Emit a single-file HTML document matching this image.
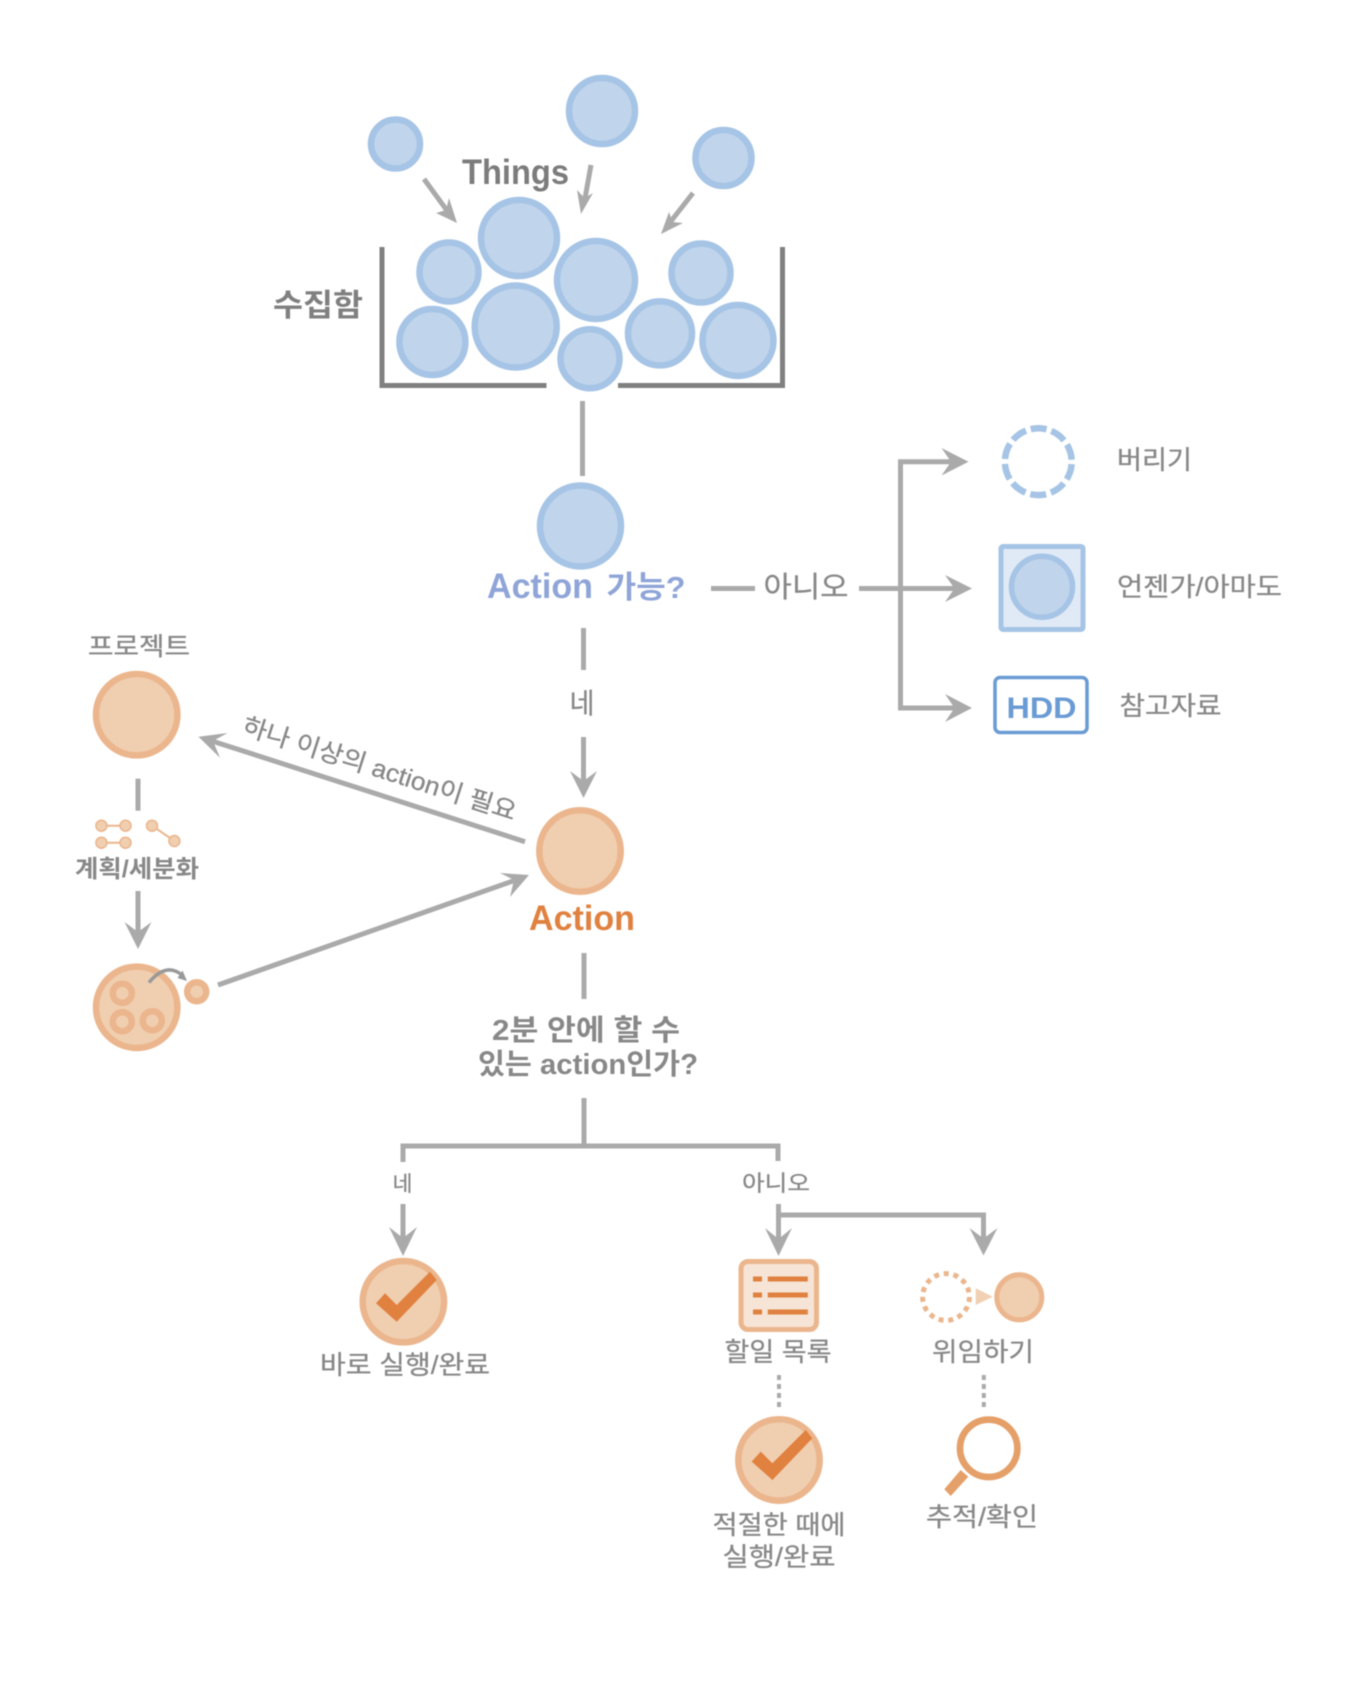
<!DOCTYPE html>
<html><head><meta charset="utf-8"><style>
html,body{margin:0;padding:0;background:#fff}
svg{display:block;filter:blur(.5px)}
text{font-family:"Liberation Sans","Noto Sans CJK KR",sans-serif;text-anchor:middle;fill:#888;stroke:#888;stroke-width:.3}
.b{font-weight:700;stroke-width:0}
.bl{fill:#c0d4ec;stroke:#a6c4e5;stroke-width:6.500}
.or{fill:#f0ceb0;stroke:#ebb68d;stroke-width:6.500}
.ln{stroke:#aaa;stroke-width:5;fill:none}
.ah{fill:#aaa}
.ck{fill:#e0813f}
.tr{fill:#808080}
</style></head><body>
<svg width="1366" height="1702" viewBox="0 0 1366 1702" xmlns="http://www.w3.org/2000/svg">
<rect width="1366" height="1702" fill="#fff"/>
<!-- falling -->
<circle class="bl" cx="395.500" cy="144" r="24.500"/>
<circle class="bl" cx="602" cy="111" r="33"/>
<circle class="bl" cx="723.500" cy="158" r="28"/>
<!-- tray -->
<rect class="tr" x="379.500" y="247" width="5" height="141"/>
<rect class="tr" x="780" y="247" width="5" height="141"/>
<rect class="tr" x="379.500" y="383" width="167" height="5"/>
<rect class="tr" x="618" y="383" width="167" height="5"/>
<!-- pile -->
<circle class="bl" cx="519" cy="238" r="38"/>
<circle class="bl" cx="449" cy="272" r="29.500"/>
<circle class="bl" cx="596" cy="280" r="39"/>
<circle class="bl" cx="701" cy="273" r="29.500"/>
<circle class="bl" cx="515.700" cy="326.500" r="41"/>
<circle class="bl" cx="432.400" cy="342" r="33"/>
<circle class="bl" cx="590" cy="358.700" r="29.500"/>
<circle class="bl" cx="660" cy="333.400" r="32"/>
<circle class="bl" cx="738" cy="340.500" r="35.500"/>
<!-- inbound arrows -->
<path class="ln" d="M424 179L451 216"/>
<polygon class="ah" points="457,223 436,213 446,210 449,198"/>
<path class="ln" d="M591 165L584 204"/>
<polygon class="ah" points="581,214 577,190 584.500,198 593,193"/>
<path class="ln" d="M693 193L668 225"/>
<polygon class="ah" points="661,234 669,212 672.500,222 683,223"/>
<text class="b" x="515.500" y="184" font-size="35" textLength="107" lengthAdjust="spacingAndGlyphs" style="fill:#7c7c7c">Things</text>
<text class="b" x="318" y="316" font-size="31" textLength="90" lengthAdjust="spacingAndGlyphs" style="fill:#808080">수집함</text>
<!-- Action possible -->
<path class="ln" d="M582.500 401V476"/>
<circle class="bl" cx="580.500" cy="526" r="40.500"/>
<text class="b" x="540" y="598" font-size="35" textLength="106" lengthAdjust="spacingAndGlyphs" style="fill:#8fa5d8">Action</text>
<text class="b" x="646" y="598" font-size="31" textLength="79" lengthAdjust="spacingAndGlyphs" style="fill:#8fa5d8">가능?</text>
<path class="ln" d="M711 588.500H755"/>
<text x="806" y="597" font-size="29" textLength="85" lengthAdjust="spacingAndGlyphs">아니오</text>
<path class="ln" d="M859 588.500H960"/>
<path class="ln" d="M958 461.700H900.500V708H960"/>
<polygon class="ah" points="968.500,461.700 941.500,448 951,461.700 941.500,475.500"/>
<polygon class="ah" points="972,588.500 945,575 954.500,588.500 945,602"/>
<polygon class="ah" points="972,708 945,694 954.500,708 945,722"/>
<circle cx="1038.300" cy="461.700" r="33.400" fill="#fff" stroke="#a6c4e5" stroke-width="6.500" stroke-dasharray="16 5" stroke-dashoffset="-2.500"/>
<rect x="1001" y="546.500" width="82" height="83" rx="2" fill="#e0eaf6" stroke="#a6c4e5" stroke-width="5"/>
<circle cx="1042" cy="586.700" r="30.500" fill="#c0d4ec" stroke="#a6c4e5" stroke-width="5.500"/>
<rect x="995" y="677.500" width="92" height="55" rx="5" fill="#fff" stroke="#6a9bd4" stroke-width="3.500"/>
<text class="b" x="1041.500" y="718" font-size="30" textLength="70" lengthAdjust="spacingAndGlyphs" style="fill:#6a9bd4">HDD</text>
<text x="1154.500" y="469" font-size="26" textLength="75" lengthAdjust="spacingAndGlyphs">버리기</text>
<text x="1199.500" y="596" font-size="26" textLength="165" lengthAdjust="spacingAndGlyphs">언젠가/아마도</text>
<text x="1170.500" y="715" font-size="26" textLength="102" lengthAdjust="spacingAndGlyphs">참고자료</text>
<!-- Yes -->
<path class="ln" d="M583.500 628V670"/>
<text x="582" y="713" font-size="28" textLength="25" lengthAdjust="spacingAndGlyphs">네</text>
<path class="ln" d="M583.500 737V785"/>
<polygon class="ah" points="583.500,798 570,771 583.500,781 597,771"/>
<!-- Action -->
<circle class="or" cx="580" cy="851" r="40.700"/>
<text class="b" x="582" y="930" font-size="35" textLength="106" lengthAdjust="spacingAndGlyphs" style="fill:#e0813f">Action</text>
<!-- project -->
<text x="139" y="655" font-size="25" textLength="102" lengthAdjust="spacingAndGlyphs">프로젝트</text>
<circle class="or" cx="136.700" cy="714.700" r="40.700"/>
<path class="ln" d="M525 841.700L208 739.700"/>
<polygon class="ah" points="198.500,736.700 227.500,733 213,741 220,757.700"/>
<text x="377" y="777" font-size="25" textLength="286" lengthAdjust="spacingAndGlyphs" transform="rotate(17.800 377 777)">하나 이상의 action이 필요</text>
<path class="ln" d="M138 778.700V810.700"/>
<g fill="#f0ceb0" stroke="#ebb68d" stroke-width="1.500">
<path d="M101.400 825.700H125.500M101.400 842.700H125.500M152 825.700L174.400 841" fill="none" stroke-width="2"/>
<circle cx="101.400" cy="825.700" r="5.500"/><circle cx="125.500" cy="825.700" r="5.500"/>
<circle cx="101.400" cy="842.700" r="5.500"/><circle cx="125.500" cy="842.700" r="5.500"/>
<circle cx="152" cy="825.700" r="5.500"/><circle cx="174.400" cy="841" r="5.500"/>
</g>
<text class="b" x="137" y="877" font-size="24" textLength="124" lengthAdjust="spacingAndGlyphs">계획/세분화</text>
<path class="ln" d="M138 891V935"/>
<polygon class="ah" points="138,949 124.500,922 138,932 151.500,922"/>
<circle class="or" cx="136.700" cy="1007.300" r="40.700"/>
<g fill="#f0ceb0" stroke="#ebb68d" stroke-width="6.500">
<circle cx="122.300" cy="993.300" r="9.500"/><circle cx="122.300" cy="1021.700" r="9.500"/><circle cx="152.300" cy="1020.700" r="9.500"/>
<circle cx="196.700" cy="991.700" r="9.500"/>
</g>
<path d="M149 982.500Q166 962 182 975" fill="none" stroke="#999" stroke-width="3.500"/>
<polygon points="187,981 177.500,978 182.500,970.500" fill="#999"/>
<path class="ln" d="M218 985L520 878.500"/>
<polygon class="ah" points="529,875 500,873 514,880 510,897"/>
<!-- 2 minutes -->
<path class="ln" d="M584 953V999"/>
<text class="b" x="586" y="1040" font-size="29" textLength="188" lengthAdjust="spacingAndGlyphs">2분 안에 할 수</text>
<text class="b" x="588" y="1074" font-size="29" textLength="220" lengthAdjust="spacingAndGlyphs">있는 action인가?</text>
<path class="ln" d="M584 1098V1147"/>
<path class="ln" d="M403 1162V1146H778V1161"/>
<text x="402.500" y="1191" font-size="21" textLength="20" lengthAdjust="spacingAndGlyphs">네</text>
<text x="776" y="1191" font-size="22" textLength="68" lengthAdjust="spacingAndGlyphs">아니오</text>
<path class="ln" d="M403 1204V1242"/>
<polygon class="ah" points="403,1256 389,1227 403,1238 417,1227"/>
<path class="ln" d="M778.500 1204V1242"/>
<polygon class="ah" points="778.500,1256 765,1228 778.500,1239 792,1228"/>
<path class="ln" d="M778.500 1215H983.500V1242"/>
<polygon class="ah" points="983.500,1255.500 969.500,1228 983.500,1238.500 997.500,1228"/>
<!-- do now -->
<circle class="or" cx="403.400" cy="1301.700" r="40.700"/>
<polygon class="ck" points="376,1303.300 385,1293.300 396.700,1305 430,1271.700 436.700,1280 396.700,1321.700"/>
<text x="405" y="1374" font-size="26" textLength="170" lengthAdjust="spacingAndGlyphs">바로 실행/완료</text>
<!-- todo -->
<rect x="741" y="1261.500" width="75.500" height="68" rx="7" fill="#f6e4d6" stroke="#ebb68d" stroke-width="5"/>
<g class="ck">
<rect x="753" y="1276.500" width="9" height="5"/><rect x="767.800" y="1276.500" width="40" height="5"/>
<rect x="753" y="1292.500" width="9" height="5"/><rect x="767.800" y="1292.500" width="40" height="5"/>
<rect x="753" y="1309.500" width="9" height="5"/><rect x="767.800" y="1309.500" width="40" height="5"/>
</g>
<text x="778" y="1361" font-size="26" textLength="107" lengthAdjust="spacingAndGlyphs">할일 목록</text>
<path d="M779 1375V1408" stroke="#aaa" stroke-width="4" stroke-dasharray="5 4" fill="none"/>
<circle class="or" cx="779" cy="1460" r="40.700"/>
<polygon class="ck" points="751.700,1461.600 760.700,1451.600 772.400,1463.300 805.700,1430 812.400,1438.300 772.400,1480"/>
<text x="779" y="1534" font-size="26" textLength="133" lengthAdjust="spacingAndGlyphs">적절한 때에</text>
<text x="779" y="1566" font-size="26" textLength="113" lengthAdjust="spacingAndGlyphs">실행/완료</text>
<!-- delegate -->
<circle cx="946" cy="1297" r="23.400" fill="#fff" stroke="#ebb68d" stroke-width="5" stroke-dasharray="5 4.800"/>
<polygon points="975.700,1288.300 992.700,1296.700 975.700,1305" fill="#f2d0b4"/>
<circle cx="1019.300" cy="1297.300" r="22.500" fill="#f0ceb0" stroke="#ebb68d" stroke-width="5"/>
<text x="983" y="1361" font-size="26" textLength="102" lengthAdjust="spacingAndGlyphs">위임하기</text>
<path d="M983.800 1375V1408" stroke="#aaa" stroke-width="4" stroke-dasharray="5 4" fill="none"/>
<circle cx="988.700" cy="1448.300" r="28.700" fill="#fff" stroke="#e5a069" stroke-width="6.700"/>
<polygon points="960.700,1470 968.300,1476.700 950.700,1496 944.300,1489.300" fill="#e5a069"/>
<text x="982" y="1526" font-size="26" textLength="112" lengthAdjust="spacingAndGlyphs">추적/확인</text>
</svg>
</body></html>
